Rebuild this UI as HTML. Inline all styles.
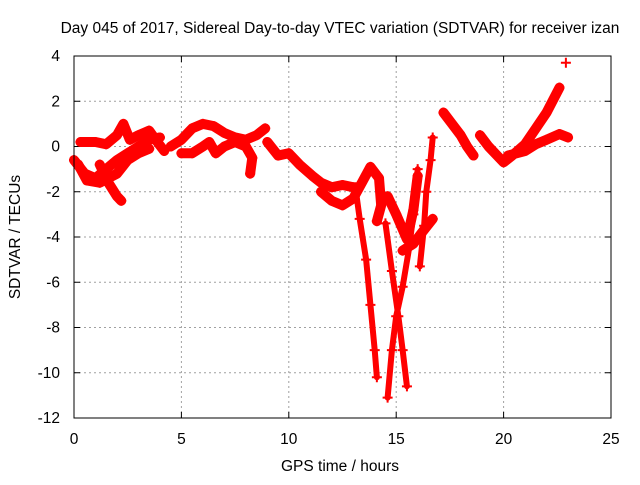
<!DOCTYPE html>
<html><head><meta charset="utf-8"><style>
body{margin:0;background:#fff}
svg{font-family:"Liberation Sans",sans-serif;font-size:15.5px}
</style></head><body>
<svg id="c" width="640" height="480"></svg>
<script>
const xTicks=[0,5,10,15,20,25];
const yTicks=[4,2,0,-2,-4,-6,-8,-10,-12];
const trackA=[[0,-0.6],[0.5,-1.2],[1,-1.4],[1.5,-1.0],[2,-0.6],[2.5,-0.3],[3,0],[3.5,0.3],[4,0.4]];
const trackB=[[0.3,0.2],[1,0.2],[1.5,0.1],[2,0.5],[2.3,1.0],[2.6,0.3],[3,0.5],[3.5,0.7],[3.8,0.3],[4.2,-0.2]];
const trackC=[[1.2,-0.8],[1.6,-1.6],[2,-2.2],[2.2,-2.4]];
const trackD=[[0.2,-0.8],[0.6,-1.5],[1.2,-1.6],[2,-1.2],[2.5,-0.6],[3,-0.3],[3.5,-0.1]];
const trackE=[[4.5,0],[5,0.3],[5.5,0.8],[6,1.0],[6.5,0.9],[7,0.6],[7.5,0.4],[8,0.3],[8.5,0.5],[8.9,0.8]];
const trackF=[[5,-0.3],[5.5,-0.3],[6,0],[6.3,0.2],[6.6,-0.3],[7,0],[7.5,0.2],[8,0.0],[8.3,-0.5],[8.2,-1.2]];
const trackG=[[9,0.2],[9.5,-0.4],[10,-0.3],[10.5,-0.8],[11.1,-1.3],[11.5,-1.6],[12,-1.8],[12.5,-1.7],[13,-1.8]];
const trackH=[[11.5,-2.0],[12,-2.4],[12.5,-2.6],[13,-2.3],[13.4,-1.6],[13.8,-0.9],[14.2,-1.4],[14.3,-2.6],[14.1,-3.3]];
const trackI=[[13.1,-1.8],[13.3,-3.2],[13.6,-5],[13.8,-7],[14,-9],[14.1,-10.2]];
const trackJ=[[14.5,-3.4],[14.8,-5.5],[15.1,-7.5],[15.3,-9],[15.5,-10.6]];
const trackK=[[14.6,-11.1],[14.8,-9],[15,-7.5],[15.3,-6.2],[15.6,-4.5],[15.8,-3],[16,-1.0]];
const trackL=[[16.1,-5.3],[16.3,-3.5],[16.4,-2],[16.6,-0.6],[16.7,0.4]];
const trackM=[[15.3,-4.6],[15.8,-4.3],[16.2,-3.8],[16.7,-3.2]];
const trackN=[[14.6,-2.2],[15,-3],[15.5,-4.1],[15.8,-2.8],[16,-1.3]];
const trackO=[[17.2,1.5],[17.6,1.0],[18,0.5],[18.3,0],[18.6,-0.4]];
const trackP=[[18.9,0.5],[19.3,0],[19.7,-0.4],[20,-0.7],[20.4,-0.4],[21,0.1],[21.5,0.8],[22,1.5],[22.6,2.6]];
const trackQ=[[20.2,-0.4],[21,-0.2],[21.5,0.1],[22,0.3],[22.6,0.55],[23,0.4]];
const trackR=[[22.9,3.7]];
const tracks=[trackA,trackB,trackC,trackD,trackE,trackF,trackG,trackH,trackI,trackJ,trackK,trackL,trackM,trackN,trackO,trackP,trackQ,trackR];
const thin=[trackI,trackJ,trackK,trackL];
const NS="http://www.w3.org/2000/svg";
const svg=document.getElementById('c');
const X=h=>74+h*(537/25);
const Y=v=>56+(4-v)*(362/16);
function mk(t,a){const e=document.createElementNS(NS,t);for(const k in a)e.setAttribute(k,a[k]);svg.appendChild(e);return e;}
xTicks.forEach(t=>{if(t>0&&t<25){const g=mk('line',{x1:X(t),x2:X(t),y1:56,y2:418,stroke:'#a0a0a0','stroke-dasharray':'2,3'});

}
const l=mk('text',{x:X(t),y:444,'text-anchor':'middle'});l.textContent=t;


mk('line',{x1:X(t),x2:X(t),y1:418,y2:412,stroke:'#000'});mk('line',{x1:X(t),x2:X(t),y1:56,y2:62,stroke:'#000'});});
yTicks.forEach(t=>{if(t<4&&t>-12){const g=mk('line',{x1:74,x2:611,y1:Y(t),y2:Y(t),stroke:'#a0a0a0','stroke-dasharray':'2,3'});

}
const l=mk('text',{x:60,y:Y(t)+5,'text-anchor':'end'});l.textContent=t;


mk('line',{x1:74,x2:80,y1:Y(t),y2:Y(t),stroke:'#000'});mk('line',{x1:605,x2:611,y1:Y(t),y2:Y(t),stroke:'#000'});});
tracks.forEach(tr=>{
 const w=thin.includes(tr)?6:10;
 if(tr.length>1){const p=mk('polyline',{points:tr.map(d=>X(d[0])+','+Y(d[1])).join(' '),fill:'none',stroke:'#ff0000','stroke-width':w,'stroke-linejoin':'round','stroke-linecap':'round'});
 
 }
 tr.forEach(d=>{const x=X(d[0]),y=Y(d[1]);
 const m=mk('path',{d:`M${x-5},${y}H${x+5}M${x},${y-5}V${y+5}`,stroke:'#ff0000','stroke-width':2});
 
 });
});
const f=mk('rect',{x:74,y:56,width:537,height:362,fill:'none',stroke:'#000'});


const ti=mk('text',{x:340,y:33,'text-anchor':'middle'});ti.textContent='Day 045 of 2017, Sidereal Day-to-day VTEC variation (SDTVAR) for receiver izan';


const xt=mk('text',{x:340,y:471,'text-anchor':'middle'});xt.textContent='GPS time / hours';


const yt=mk('text',{x:20,y:237,'text-anchor':'middle',transform:'rotate(-90 20 237)'});yt.textContent='SDTVAR / TECUs';


</script>
</body></html>
